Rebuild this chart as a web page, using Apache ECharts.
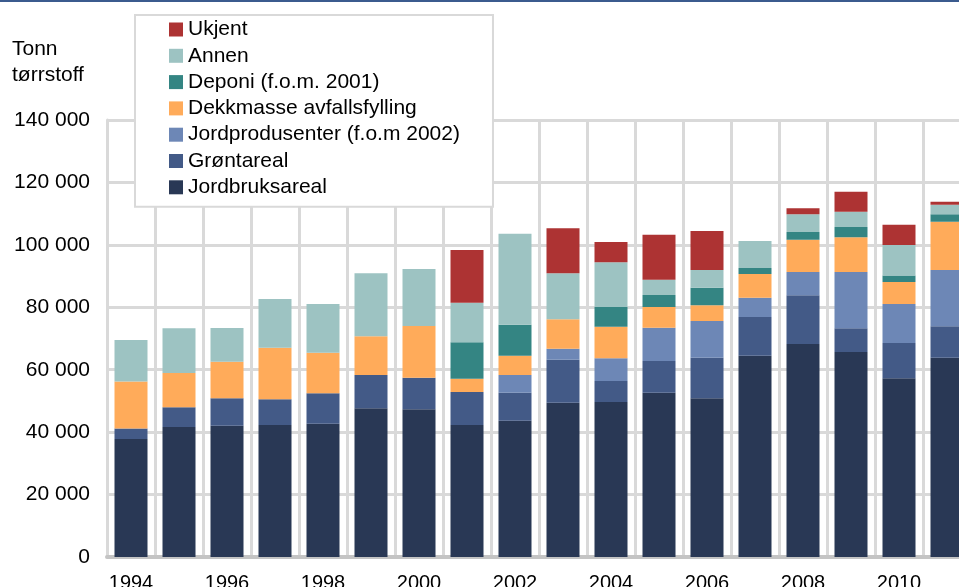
<!DOCTYPE html>
<html>
<head>
<meta charset="utf-8">
<script src="https://cdn.jsdelivr.net/npm/echarts@6/dist/echarts.min.js"></script>
<style>
  html, body { margin: 0; padding: 0; background: #fff; }
  #main { width: 959px; height: 587px; }
</style>
</head>
<body>
<div id="main"></div>
<script>
// år og tonn tørrstoff per kategori
var years = ['1994','1995','1996','1997','1998','1999','2000','2001','2002','2003','2004','2005','2006','2007','2008','2009','2010','2011'];
var jordbruksareal = [37800, 41650, 42070, 42300, 42700, 47640, 47320, 42290, 43670, 49430, 49660, 52640, 50840, 64490, 68240, 65680, 57250, 63850];
var grontareal     = [3400, 6300, 8770, 8230, 9730, 10670, 10120, 10570, 8970, 13780, 6730, 10150, 13010, 12400, 15600, 7590, 11310, 10060];
var jordprodusenter = [0, 0, 0, 0, 0, 0, 0, 0, 5670, 3520, 7260, 10670, 11760, 6190, 7470, 18040, 12490, 18040];
var dekkmasse      = [15000, 11000, 11740, 16540, 13010, 12390, 16570, 4260, 6180, 9420, 10130, 6630, 5030, 7600, 10340, 11110, 7050, 15470];
var deponi         = [0, 0, 0, 0, 0, 0, 0, 11660, 9930, 0, 6310, 3850, 5640, 1920, 2470, 3300, 2100, 2380];
var annen          = [13300, 14300, 10780, 15590, 15600, 20180, 18260, 12690, 29160, 14730, 14320, 4900, 5680, 8640, 5670, 4900, 9750, 3080];
var ukjent         = [0, 0, 0, 0, 0, 0, 0, 16880, 0, 14420, 6510, 14420, 12480, 0, 1920, 6410, 6510, 960];

var names = ['Jordbruksareal', 'Grøntareal', 'Jordprodusenter (f.o.m 2002)', 'Dekkmasse avfallsfylling', 'Deponi (f.o.m. 2001)', 'Annen', 'Ukjent'];
var values = [jordbruksareal, grontareal, jordprodusenter, dekkmasse, deponi, annen, ukjent];
var colors = ['#293855', '#435a87', '#6d87b6', '#ffab5a', '#348583', '#9dc3c2', '#ad3333'];

var font = 'Liberation Sans, Arial, sans-serif';

var myChart = echarts.init(document.getElementById('main'));

var series = names.map(function (n, i) {
    return {
        name: n,
        type: 'bar',
        stack: 'total',
        barWidth: 33,
        itemStyle: { color: colors[i] },
        data: values[i]
    };
});

myChart.setOption({
    animation: false,
    textStyle: { fontFamily: font },
    graphic: [
        { type: 'rect', left: 0, top: 0, shape: { width: 959, height: 2 }, style: { fill: '#3b5b8e' } },
        { type: 'text', left: 12, top: 36, style: { text: 'Tonn\ntørrstoff', font: '21px ' + font, fill: '#000', lineHeight: 26 } }
    ],
    legend: {
        orient: 'vertical',
        left: 135,
        top: 15,
        data: names.slice().reverse(),
        icon: 'rect',
        itemWidth: 14,
        itemHeight: 14,
        itemGap: 5.3,
        padding: [4, 33, 9, 34],
        backgroundColor: '#fff',
        borderColor: '#d9d9d9',
        borderWidth: 2,
        textStyle: { fontSize: 21, color: '#000', fontFamily: font }
    },
    grid: {
        left: 107,
        width: 864,
        top: 120,
        bottom: 30,
        outerBoundsMode: 'none'
    },
    xAxis: {
        type: 'category',
        data: years,
        axisTick: { show: false },
        axisLine: { lineStyle: { color: '#c4c4c4', width: 4 } },
        axisLabel: { interval: 1, fontSize: 20, color: '#000', margin: 16, fontFamily: font },
        splitLine: { show: true, interval: 0, lineStyle: { color: '#d9d9d9', width: 3 } }
    },
    yAxis: {
        type: 'value',
        min: 0,
        max: 140000,
        interval: 20000,
        axisLine: { show: true, lineStyle: { color: '#d9d9d9', width: 3 } },
        axisTick: { show: false },
        axisLabel: {
            fontSize: 21, color: '#000', margin: 17, fontFamily: font,
            formatter: function (v) { return String(v).replace(/\B(?=(\d{3})+(?!\d))/g, ' '); }
        },
        splitLine: { lineStyle: { color: '#d9d9d9', width: 3 } }
    },
    series: series
});
</script>
</body>
</html>
